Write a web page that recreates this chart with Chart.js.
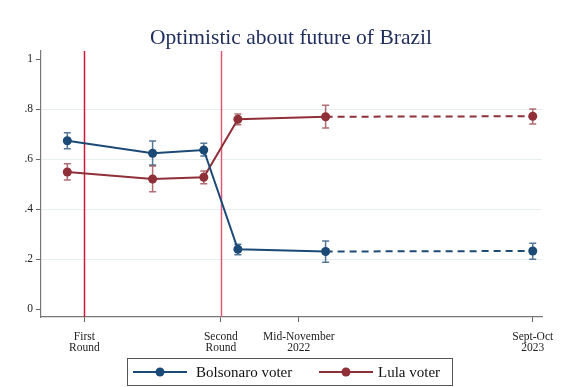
<!DOCTYPE html>
<html>
<head>
<meta charset="utf-8">
<script src="https://cdn.jsdelivr.net/npm/chart.js@4.4.1/dist/chart.umd.min.js"></script>
<style>
  html, body { margin: 0; padding: 0; background: #fff; }
  #wrap { width: 588px; height: 387px; }
</style>
</head>
<body>
<div id="wrap"><canvas id="myChart" width="588" height="387"></canvas></div>
<script>
// x positions in days since the first round (2 Oct 2022), axis compressed after November
const surveyDays = [-3.5, 14, 24.5, 31.5, 49.5, 92];
const tickDays = [0, 28, 44, 92];
const tickLabels = [["First", "Round"], ["Second", "Round"], ["Mid-November", "2022"], ["Sept-Oct", "2023"]];
const electionDays = [0, 28];

const bolsonaro = [0.674, 0.624, 0.637, 0.240, 0.231, 0.233];
const bolsonaroLow = [0.642, 0.577, 0.613, 0.218, 0.188, 0.200];
const bolsonaroHigh = [0.706, 0.673, 0.664, 0.260, 0.273, 0.264];

const lula = [0.549, 0.521, 0.528, 0.760, 0.770, 0.772];
const lulaLow = [0.517, 0.470, 0.502, 0.738, 0.725, 0.741];
const lulaHigh = [0.582, 0.573, 0.553, 0.781, 0.816, 0.801];

const yTicks = [0, 0.2, 0.4, 0.6, 0.8, 1];

const navy = "#1c4a76";
const maroon = "#8f2f38";
const serif = "'Liberation Serif', 'DejaVu Serif', serif";

const toPoints = (vals) => vals.map((v, i) => ({ x: surveyDays[i], y: v }));

// last wave is joined with a dashed segment
const dashLast = (ctx) => (ctx.p0DataIndex >= 4 ? [7, 5] : undefined);

const errorBars = {
  id: "errorBars",
  beforeDatasetsDraw(chart) {
    const { ctx, scales } = chart;
    const sets = [
      [bolsonaroLow, bolsonaroHigh, "rgba(28,74,118,0.75)"],
      [lulaLow, lulaHigh, "rgba(143,47,56,0.7)"],
    ];
    ctx.save();
    ctx.lineWidth = 1.5;
    sets.forEach(([lo, hi, color]) => {
      ctx.strokeStyle = color;
      surveyDays.forEach((d, i) => {
        const x = scales.x.getPixelForValue(d);
        const y1 = scales.y.getPixelForValue(lo[i]);
        const y2 = scales.y.getPixelForValue(hi[i]);
        ctx.beginPath();
        ctx.moveTo(x, y1); ctx.lineTo(x, y2);
        ctx.moveTo(x - 3.5, y1); ctx.lineTo(x + 3.5, y1);
        ctx.moveTo(x - 3.5, y2); ctx.lineTo(x + 3.5, y2);
        ctx.stroke();
      });
    });
    ctx.restore();
  },
};

const roundLines = {
  id: "roundLines",
  beforeDatasetsDraw(chart) {
    const { ctx, scales, chartArea } = chart;
    const colors = ["#d4163c", "#db5a78"];
    ctx.save();
    ctx.lineWidth = 1.5;
    electionDays.forEach((d, i) => {
      const x = Math.round(scales.x.getPixelForValue(d)) + 0.5;
      ctx.strokeStyle = colors[i];
      ctx.beginPath();
      ctx.moveTo(x, chartArea.top);
      ctx.lineTo(x, chartArea.bottom);
      ctx.stroke();
    });
    ctx.restore();
  },
};

// title and boxed legend under the axis
const decorations = {
  id: "decorations",
  afterDraw(chart) {
    const { ctx } = chart;
    ctx.save();
    ctx.fillStyle = "#1f2d5c";
    ctx.font = "21.5px " + serif;
    ctx.textAlign = "center";
    ctx.textBaseline = "alphabetic";
    ctx.fillText("Optimistic about future of Brazil", 291, 44);

    ctx.strokeStyle = "#555";
    ctx.lineWidth = 1;
    ctx.strokeRect(127.5, 358.5, 325, 27);

    const entries = [
      ["Bolsonaro voter", navy, 133, 196],
      ["Lula voter", maroon, 319, 378],
    ];
    ctx.font = "15px " + serif;
    ctx.textAlign = "left";
    ctx.textBaseline = "middle";
    entries.forEach(([label, color, x0, tx]) => {
      ctx.strokeStyle = color;
      ctx.lineWidth = 2;
      ctx.beginPath();
      ctx.moveTo(x0, 372);
      ctx.lineTo(x0 + 54, 372);
      ctx.stroke();
      ctx.fillStyle = color;
      ctx.beginPath();
      ctx.arc(x0 + 27, 372, 4.5, 0, Math.PI * 2);
      ctx.fill();
      ctx.fillStyle = "#111";
      ctx.fillText(label, tx, 373);
    });
    ctx.restore();
  },
};

new Chart(document.getElementById("myChart"), {
  type: "line",
  data: {
    datasets: [
      {
        label: "Bolsonaro voter",
        data: toPoints(bolsonaro),
        borderColor: navy,
        backgroundColor: navy,
        borderWidth: 2,
        pointRadius: 4.5,
        pointHoverRadius: 4.5,
        pointBorderWidth: 0,
        segment: { borderDash: dashLast },
      },
      {
        label: "Lula voter",
        data: toPoints(lula),
        borderColor: maroon,
        backgroundColor: maroon,
        borderWidth: 2,
        pointRadius: 4.5,
        pointHoverRadius: 4.5,
        pointBorderWidth: 0,
        segment: { borderDash: dashLast },
      },
    ],
  },
  options: {
    responsive: false,
    animation: false,
    layout: { autoPadding: false, padding: { top: 51, right: 46, left: 0, bottom: 0 } },
    plugins: {
      legend: { display: false },
      title: { display: false },
      tooltip: { enabled: false },
    },
    scales: {
      x: {
        type: "linear",
        min: -8.9,
        max: 93.9,
        afterFit: (scale) => { scale.height = 70; },
        afterBuildTicks: (scale) => { scale.ticks = tickDays.map((v) => ({ value: v })); },
        border: { color: "#777", width: 1.2 },
        grid: { drawOnChartArea: false, drawTicks: true, tickLength: 5, tickColor: "#666" },
        ticks: {
          autoSkip: false,
          maxRotation: 0,
          padding: 9,
          color: "#222",
          font: { family: serif, size: 11.5, lineHeight: 1.0 },
          callback: (v) => tickLabels[tickDays.indexOf(v)],
        },
      },
      y: {
        min: -0.031,
        max: 1.033,
        afterFit: (scale) => { scale.width = 41; },
        afterBuildTicks: (scale) => { scale.ticks = yTicks.map((v) => ({ value: v })); },
        border: { color: "#777", width: 1.2 },
        grid: {
          color: (c) => (c.tick && c.tick.value > 0 && c.tick.value < 1 ? "#e6eef0" : "rgba(0,0,0,0)"),
          lineWidth: 1,
          tickLength: 5,
          tickColor: "#666",
        },
        ticks: {
          padding: 3,
          color: "#222",
          font: { family: serif, size: 11.5 },
          callback: (v) => (v === 0 ? "0" : v === 1 ? "1" : String(v.toFixed(1)).replace(/^0/, "")),
        },
      },
    },
  },
  plugins: [roundLines, errorBars, decorations],
});
</script>
</body>
</html>
